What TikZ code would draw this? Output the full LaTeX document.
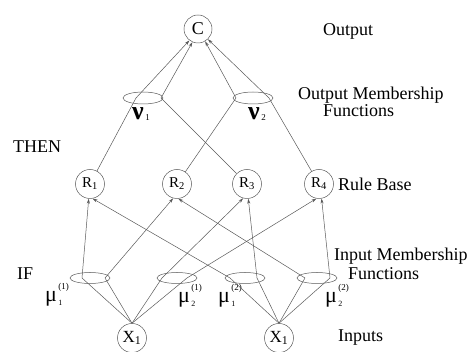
\documentclass[tikz,border=0pt]{standalone}
\usepackage{fontspec}
\setmainfont{Liberation Serif}
\usetikzlibrary{arrows.meta,shapes.geometric}
\newcommand{\fs}[1]{\fontsize{#1}{#1}\selectfont}
\newcommand{\mulab}[2]{{\fs{22}μ}\kern1.5pt\makebox[0pt][l]{\raisebox{12pt}{\fs{9}(#1)}}\raisebox{-4pt}{\fs{8}#2}}
\newcommand{\nulab}[1]{{\fs{26}\bfseries ν}\raisebox{-1pt}{\fs{9}\,#1}}
\begin{document}
\begin{tikzpicture}[x=1pt,y=-1pt,
  ln/.style={draw=black!65, line width=0.5pt},
  arr/.style={ln, -{Stealth[length=5pt,width=3pt]}},
  circ/.style={circle, draw=black!65, line width=0.5pt, minimum size=29pt, inner sep=0pt},
  ell/.style={ellipse, draw=black!65, line width=0.5pt, minimum width=40pt, minimum height=11pt, inner sep=0pt},
  lab/.style={font=\fs{18}, inner sep=0pt, anchor=base west},
]
\useasboundingbox (0,0) rectangle (467,352);

% nodes
\node[circ, minimum size=28pt] (C) at (198,29) {\fs{18}C};
\node[ell, minimum height=12pt] (V1) at (143,98) {};
\node[ell, minimum height=12pt] (V2) at (253,98) {};
\node[circ] (R1) at (90,184) {\fs{15}R\textsubscript{1}};
\node[circ] (R2) at (177,184) {\fs{15}R\textsubscript{2}};
\node[circ] (R3) at (247,184) {\fs{15}R\textsubscript{3}};
\node[circ] (R4) at (319,184) {\fs{15}R\textsubscript{4}};
\node[ell] (E1) at (90,278) {};
\node[ell] (E2) at (177,278) {};
\node[ell] (E3) at (245,278) {};
\node[ell] (E4) at (317,278) {};
\node[circ] (X1) at (132,338) {\fs{17}X\textsubscript{1}};
\node[circ] (X2) at (279,338) {\fs{17}X\textsubscript{1}};

% pass-through points
\coordinate (q1a) at (136,98);
\coordinate (q1b) at (161,98);
\coordinate (q2a) at (236,98);
\coordinate (q2b) at (269,98);
\coordinate (p1a) at (82,278);
\coordinate (p1b) at (105,278);
\coordinate (p2a) at (162,278);
\coordinate (p2b) at (187,278);
\coordinate (p3a) at (230,278);
\coordinate (p3b) at (257,278);
\coordinate (p4a) at (305,278);
\coordinate (p4b) at (330,278);

% labels
\node[inner sep=0pt, anchor=base west] (nu1) at (132,120) {\nulab{1}};
\node[inner sep=0pt, anchor=base west] (nu2) at (248,120) {\nulab{2}};
\node[inner sep=0pt, anchor=base west] (mu11) at (45,302) {\mulab{1}{1}};
\node[inner sep=0pt, anchor=base west] (mu21) at (178,303) {\mulab{1}{2}};
\node[inner sep=0pt, anchor=base west] (mu12) at (218,303) {\mulab{2}{1}};
\node[inner sep=0pt, anchor=base west] (mu22) at (325,303) {\mulab{2}{2}};

\node[lab] (tout) at (323,36) {Output};
\node[lab] (tomf1) at (298,100) {Output Membership};
\node[lab] (tomf2) at (323,117) {Functions};
\node[lab] (tthen) at (13,153) {THEN};
\node[lab] (trule) at (338,191) {Rule Base};
\node[lab] (timf1) at (334,261) {Input Membership};
\node[lab] (timf2) at (348,280) {Functions};
\node[lab] (tif) at (17,280) {IF};
\node[lab] (tin) at (338,342) {Inputs};

% inputs to membership points
\draw[ln] (X1.north) -- (p1a);
\draw[ln] (X1.north) -- (p1b);
\draw[ln] (X1.north) -- (p2a);
\draw[ln] (X1.north) -- (p2b);
\draw[ln] (X2.north) -- (p3a);
\draw[ln] (X2.north) -- (p3b);
\draw[ln] (X2.north) -- (p4a);
\draw[ln] (X2.north) -- (p4b);

% membership to rules
\draw[arr] (p1a) -- (R1.265);
\draw[arr] (p3a) -- (R1.280);
\draw[arr] (p1b) -- (R2.255);
\draw[arr] (p4a) -- (R2.275);
\draw[arr] (p2a) -- (R3.255);
\draw[arr] (p3b) -- (R3.275);
\draw[arr] (p2b) -- (R4.260);
\draw[arr] (p4b) -- (R4.280);

% rules to output membership
\draw[ln] (R1) -- (q1a);
\draw[ln] (R3) -- (q1b);
\draw[ln] (R2) -- (q2a);
\draw[ln] (R4) -- (q2b);

% output membership to C
\draw[arr] (q1a) -- (C.233);
\draw[arr] (q1b) -- (C.247);
\draw[arr] (q2a) -- (C.300);
\draw[arr] (q2b) -- (C.314);
\end{tikzpicture}
\end{document}
